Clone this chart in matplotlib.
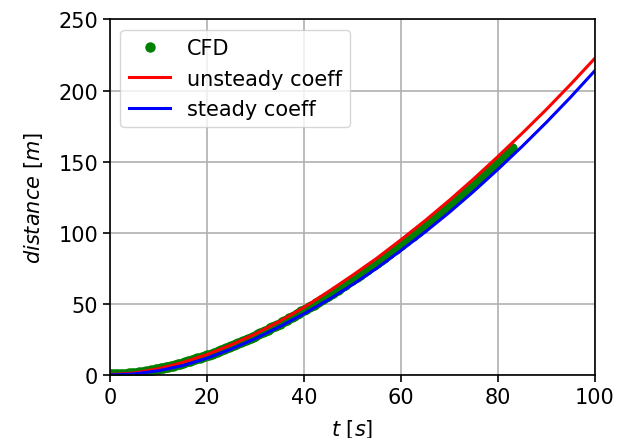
import matplotlib
matplotlib.use('Agg')
import matplotlib.pyplot as plt
import numpy as np

# CFD trajectory, sampled every half second
t_cfd = np.arange(0, 83.5, 0.5)
d_cfd = [0.5, 0.5, 0.5, 0.55, 0.6, 0.7, 0.8, 0.95, 1.1, 1.3,
         1.5, 1.7, 1.9, 2.15, 2.4, 2.7, 3.0, 3.3, 3.6, 3.9,
         4.2, 4.6, 5.0, 5.4, 5.8, 6.2, 6.6, 7.05, 7.5, 8.0,
         8.5, 9.0, 9.5, 10.05, 10.6, 11.15, 11.7, 12.25, 12.8, 13.35,
         13.8, 14.4, 15.0, 15.6, 16.2, 16.85, 17.5, 18.2, 18.9, 19.6,
         20.2, 20.9, 21.6, 22.35, 23.1, 23.85, 24.6, 25.4, 26.2, 27.0,
         27.7, 28.5, 29.3, 30.15, 31.0, 31.85, 32.7, 33.6, 34.5, 35.4,
         36.15, 37.05, 37.95, 38.9, 39.85, 40.8, 41.75, 42.7, 43.65, 44.65,
         45.5, 46.5, 47.5, 48.5, 49.5, 50.55, 51.6, 52.65, 53.7, 54.8,
         55.75, 56.8, 57.85, 58.95, 60.05, 61.2, 62.35, 63.5, 64.65, 65.8,
         66.8, 67.95, 69.1, 70.3, 71.5, 72.7, 73.9, 75.15, 76.4, 77.6,
         78.7, 79.95, 81.2, 82.5, 83.8, 85.05, 86.3, 87.6, 88.9, 90.25,
         91.4, 92.7, 94.0, 95.35, 96.7, 98.05, 99.4, 100.8, 102.2, 103.6,
         104.9, 106.3, 107.7, 109.1, 110.5, 111.95, 113.4, 114.85, 116.3, 117.8,
         119.15, 120.6, 122.05, 123.55, 125.05, 126.55, 128.05, 129.6, 131.15, 132.7,
         134.1, 135.65, 137.2, 138.75, 140.3, 141.9, 143.5, 145.1, 146.7, 148.3,
         149.7, 151.35, 153.0, 154.6, 156.2, 157.85, 159.5]

# model predictions
t_model = [0, 5, 10, 15, 20, 25, 30, 35, 40, 45, 50,
           55, 60, 65, 70, 75, 80, 85, 90, 95, 100]
d_unsteady = [0.3, 1.4, 4.4, 8.8, 14.4, 21.2, 28.9, 37.8, 47.5, 58.5, 70.0,
              82.0, 95.0, 108.5, 122.8, 137.8, 153.5, 169.8, 186.6, 204.2, 222.5]
d_steady = [0.0, 0.8, 3.0, 6.6, 11.8, 18.2, 25.6, 34.0, 43.0, 52.8, 63.5,
            75.0, 87.5, 100.5, 114.3, 129.0, 144.5, 160.6, 177.5, 195.2, 213.8]

plt.rcParams['font.size'] = 15

fig = plt.figure(figsize=(6.36, 4.39), dpi=100)
ax = fig.add_axes([0.173, 0.1435, 0.762, 0.81])

ax.plot(t_cfd, d_cfd, 'o', color='green', markersize=6.5, label='CFD')
ax.plot(t_model, d_unsteady, color='red', linewidth=2.2, label='unsteady coeff')
ax.plot(t_model, d_steady, color='blue', linewidth=2.2, label='steady coeff')

ax.set_xlim(0, 100)
ax.set_ylim(0, 250)
ax.set_xticks([0, 20, 40, 60, 80, 100])
ax.set_yticks([0, 50, 100, 150, 200, 250])
ax.grid(True, color='#b0b0b0', linewidth=1.2)
ax.set_axisbelow(True)
for s in ax.spines.values():
    s.set_linewidth(1.2)
ax.tick_params(width=1.2, length=5)

ax.set_xlabel(r'$t\ [s]$', labelpad=7)
ax.set_ylabel(r'$distance\ [m]$', labelpad=10)
ax.legend(loc='upper left')

fig.savefig('out.png', dpi=100)
